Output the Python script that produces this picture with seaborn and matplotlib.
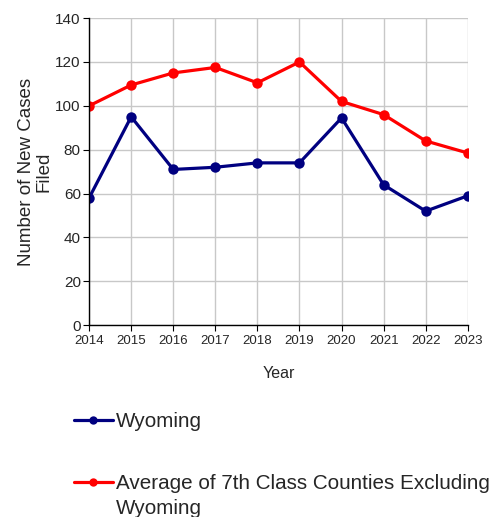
import pandas as pd
import numpy as np
import matplotlib
matplotlib.use("Agg")
import matplotlib.pyplot as plt
import seaborn as sns

years = [2014, 2015, 2016, 2017, 2018, 2019, 2020, 2021, 2022, 2023]
wyoming = [58, 95, 71, 72, 74, 74, 94.5, 64, 52, 59]
avg_7th = [100, 109.5, 115, 117.5, 110.5, 120, 102, 96, 84, 78.5]

labels = ["Wyoming", "Average of 7th Class Counties Excluding"]
label_wrap = "Wyoming"
colors = ["#000080", "#FF0000"]

df = pd.DataFrame({
    "Year": years * 2,
    "Cases": wyoming + avg_7th,
    "Series": [labels[0]] * len(years) + [labels[1]] * len(years),
})

sns.set_style("whitegrid")
plt.rcParams["font.family"] = ["Liberation Sans", "DejaVu Sans"]

fig = plt.figure(figsize=(4.95, 5.17), dpi=100)
ax = fig.add_axes([0.18, 0.371, 0.765, 0.594])

sns.lineplot(data=df, x="Year", y="Cases", hue="Series", palette=colors,
             marker="o", markersize=7.5, markeredgewidth=0, linewidth=2.3, ax=ax)

ax.set_xlim(2014, 2023)
ax.set_ylim(0, 140)
ax.set_xticks(years)
ax.set_yticks(range(0, 141, 20))
ax.tick_params(axis="x", labelsize=9.5, length=4, color="black", direction="out", pad=3)
ax.tick_params(axis="y", labelsize=11, length=4, color="black", direction="out", pad=2)
ax.tick_params(bottom=True, left=True)
ax.grid(True, color="#c8c8c8", linewidth=1)
for s in ["top", "right"]:
    ax.spines[s].set_visible(False)
for s in ["left", "bottom"]:
    ax.spines[s].set_color("black")
    ax.spines[s].set_linewidth(1)
ax.set_axisbelow(True)
ax.set_xlabel("Year", fontsize=11.5, labelpad=14)
ax.set_ylabel("Number of New Cases\nFiled", fontsize=13.5, labelpad=2,
              linespacing=1.0)

handles, lbls = ax.get_legend_handles_labels()
for h in handles:
    h.set_markersize(6)
leg = ax.legend(handles, lbls, loc="upper left", bbox_to_anchor=(0.15, 0.203),
                bbox_transform=fig.transFigure, frameon=False, fontsize=14.9,
                handlelength=1.85, handletextpad=0.15, labelspacing=2.08,
                borderaxespad=0, borderpad=0)

# wrapped second line of the long legend label
fig.canvas.draw()
bb = leg.get_texts()[1].get_window_extent().transformed(fig.transFigure.inverted())
fig.text(bb.x0, bb.y0 - 25 / 517, label_wrap, fontsize=14.9, va="bottom", ha="left")

fig.savefig("out.png", dpi=100)
